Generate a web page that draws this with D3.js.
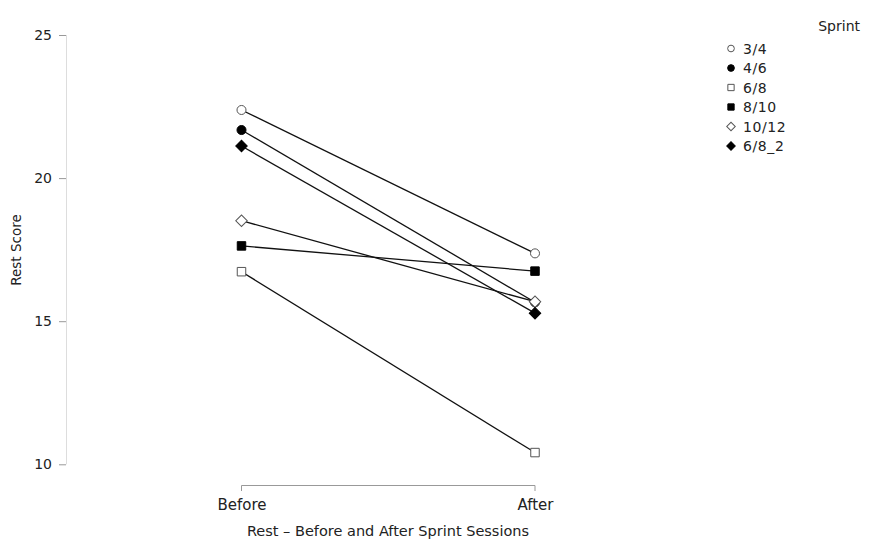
<!DOCTYPE html>
<html>
<head>
<meta charset="utf-8">
<script src="https://cdn.jsdelivr.net/npm/d3@7"></script>
<style>
  html, body { margin: 0; padding: 0; background: #fff; }
  svg { display: block; font-family: "DejaVu Sans", sans-serif; }
</style>
</head>
<body>
<svg id="chart" width="874" height="545"></svg>
<script>
// Rest score per sprint group, measured before and after the sessions
const phases = ["Before", "After"];
const sprints = ["3/4", "4/6", "6/8", "8/10", "10/12", "6/8_2"];
const beforeScores = [22.38, 21.68, 16.73, 17.63, 18.51, 21.12];
const afterScores = [17.37, 15.66, 10.41, 16.75, 15.68, 15.28];
const symbolKinds = ["circle", "circle", "square", "square", "diamond", "diamond"];
const symbolFilled = [false, true, false, true, false, true];
const yTicks = [10, 15, 20, 25];

const svg = d3.select("#chart");

const x = d3.scalePoint().domain(phases).range([241.5, 535]);
const y = d3.scaleLinear().domain([10, 25]).range([464.3, 35]);

// y axis: pale spine with darker ticks
const yAxis = svg.append("g")
  .attr("transform", "translate(66,0)")
  .call(d3.axisLeft(y).tickValues(yTicks).tickSize(8).tickPadding(6));
yAxis.select(".domain").attr("stroke", "#ddd").attr("d", `M0.5,${y(25)}V${y(10)}`);
yAxis.selectAll(".tick line").attr("stroke", "#999").attr("x1", 0).attr("x2", -7);
yAxis.selectAll(".tick text").attr("font-size", 14).attr("fill", "#222")
  .attr("font-family", "DejaVu Sans, sans-serif");

// x axis: bracket between the two phases
const xAxis = svg.append("g")
  .attr("transform", "translate(0,485)")
  .call(d3.axisBottom(x).tickSize(0).tickPadding(14));
xAxis.select(".domain").attr("stroke", "#999")
  .attr("d", `M${x("Before")},6V0.5H${x("After")}V6`);
xAxis.selectAll(".tick text").attr("font-size", 15).attr("fill", "#222")
  .attr("font-family", "DejaVu Sans, sans-serif");

// axis titles
svg.append("text")
  .attr("x", 388).attr("y", 536)
  .attr("text-anchor", "middle").attr("font-size", 14.5).attr("fill", "#222")
  .text("Rest \u2013 Before and After Sprint Sessions");
svg.append("text")
  .attr("transform", "translate(21,250) rotate(-90)")
  .attr("text-anchor", "middle").attr("font-size", 13.5).attr("fill", "#222")
  .text("Rest Score");

// diamonds are squares turned 45 degrees
const symbolType = { circle: d3.symbolCircle, square: d3.symbolSquare, diamond: d3.symbolSquare };
const symbolSize = { circle: 64, square: 72, diamond: 66 };
const symbolRotate = kind => kind === "diamond" ? " rotate(45)" : "";
const symbolPath = (i, k) => d3.symbol().type(symbolType[symbolKinds[i]]).size(symbolSize[symbolKinds[i]] * k)();

const series = sprints.map((name, i) => ({
  name, i,
  values: [{ phase: "Before", v: beforeScores[i] }, { phase: "After", v: afterScores[i] }]
}));

const line = d3.line().x(d => x(d.phase)).y(d => y(d.v));

// connecting lines first, then markers over them
svg.append("g").selectAll("path")
  .data(series).join("path")
  .attr("d", d => line(d.values))
  .attr("fill", "none").attr("stroke", "#111").attr("stroke-width", 1.3);

const marks = svg.append("g");
series.forEach(s => {
  marks.selectAll(null)
    .data(s.values).join("path")
    .attr("transform", d => `translate(${x(d.phase)},${y(d.v)})${symbolRotate(symbolKinds[s.i])}`)
    .attr("d", symbolPath(s.i, 1))
    .attr("fill", symbolFilled[s.i] ? "#000" : "#fff")
    .attr("stroke", symbolFilled[s.i] ? "#000" : "#555")
    .attr("stroke-width", 1);
});

// legend
const legend = svg.append("g");
legend.append("text")
  .attr("x", 860).attr("y", 31).attr("text-anchor", "end")
  .attr("font-size", 14).attr("fill", "#222").text("Sprint");
const rows = legend.selectAll("g.row")
  .data(sprints).join("g").attr("class", "row")
  .attr("transform", (d, i) => `translate(731,${48.5 + i * 19.5})`);
rows.append("path")
  .attr("transform", (d, i) => symbolRotate(symbolKinds[i]).trim() || null)
  .attr("d", (d, i) => symbolPath(i, 0.55))
  .attr("fill", (d, i) => symbolFilled[i] ? "#000" : "#fff")
  .attr("stroke", (d, i) => symbolFilled[i] ? "#000" : "#555");
rows.append("text")
  .attr("x", 12).attr("dy", "0.36em")
  .attr("font-size", 14).attr("letter-spacing", 0.6).attr("fill", "#222")
  .text(d => d);
</script>
</body>
</html>
